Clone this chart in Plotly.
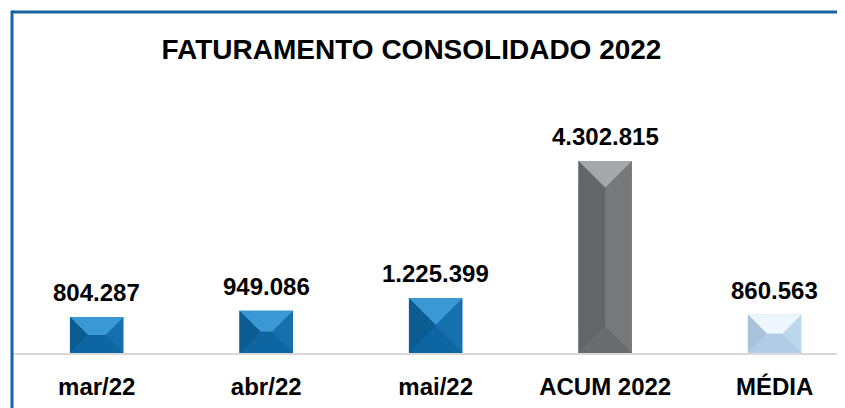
import plotly.graph_objects as go

# ---------------- data ----------------
categories = ["mar/22", "abr/22", "mai/22", "ACUM 2022", "MÉDIA"]
values = [804287, 949086, 1225399, 4302815, 860563]
title_text = "FATURAMENTO CONSOLIDADO 2022"

# ---------------- styles ----------------
base_colors = ["#1570ad", "#1570ad", "#1570ad", "#77787b", "#bcd6ec"]   # right face
top_colors = ["#3a98d5", "#3a98d5", "#3a98d5", "#a6a7aa", "#eef7fd"]
left_colors = ["#0b5c93", "#0b5c93", "#0b5c93", "#646567", "#a8c2da"]
bottom_colors = ["#0d65a1", "#0d65a1", "#0d65a1", "#6b6c6f", "#b1cce4"]

# page body has an 8px margin, so the figure is sized to fill the rest of the window
W, H = 837, 400
M_L, M_R, M_T, M_B = 4, 0, 92, 55
plot_w = W - M_L - M_R
plot_h = H - M_T - M_B
X_RANGE = [-0.5, 4.415]
UNITS_PER_PX = 22400
Y_RANGE = [0, plot_h * UNITS_PER_PX]
BAR_W = 0.316
FONT = "Liberation Sans, Arial, sans-serif"

x_per_px = (X_RANGE[1] - X_RANGE[0]) / plot_w
y_per_px = (Y_RANGE[1] - Y_RANGE[0]) / plot_h

xs = list(range(len(categories)))

fig = go.Figure()
fig.add_trace(go.Bar(
    x=xs, y=values, width=BAR_W,
    marker=dict(color=base_colors, line=dict(width=0)),
    hoverinfo="skip", showlegend=False,
))

# bevel faces derived from the values
for i, v in enumerate(values):
    x0, x1 = i - BAR_W / 2, i + BAR_W / 2
    bar_w_px = BAR_W / x_per_px
    h_px = v / y_per_px
    d_px = min(bar_w_px / 2, h_px / 2)
    dx, dy = d_px * x_per_px, d_px * y_per_px
    faces = [
        ([x0, x1, x1 - dx, x0 + dx, x0], [v, v, v - dy, v - dy, v], top_colors[i]),
        ([x0, x0, x0 + dx, x0 + dx, x0], [0, v, v - dy, dy, 0], left_colors[i]),
        ([x0, x1, x1 - dx, x0 + dx, x0], [0, 0, dy, dy, 0], bottom_colors[i]),
    ]
    for fx, fy, col in faces:
        fig.add_trace(go.Scatter(
            x=fx, y=fy, mode="lines", fill="toself", fillcolor=col,
            line=dict(width=0, color=col), hoverinfo="skip", showlegend=False,
        ))

for i, v in enumerate(values):
    fig.add_annotation(
        x=i, y=v, xref="x", yref="y", text=f"{v:,}".replace(",", "."),
        showarrow=False, yanchor="bottom", yshift=9,
        font=dict(family=FONT, size=24, color="#000000", weight="bold"),
    )

# chart-area border (top and left)
top_border_paper = (H - M_B - 4) / plot_h
fig.add_shape(type="line", xref="paper", yref="paper", x0=0, x1=1.0,
              y0=top_border_paper, y1=top_border_paper,
              line=dict(color="#1565a5", width=3), layer="above")
fig.add_shape(type="line", xref="paper", yref="paper", x0=0, x1=0,
              y0=-0.5, y1=top_border_paper + 0.006,
              line=dict(color="#1565a5", width=3), layer="above")

fig.update_layout(
    width=W, height=H,
    margin=dict(l=M_L, r=M_R, t=M_T, b=M_B, pad=0),
    paper_bgcolor="#ffffff", plot_bgcolor="#ffffff",
    title=dict(text=title_text, x=403.5 / W, xanchor="center", xref="container",
               y=1 - 41 / H, yanchor="middle", yref="container",
               font=dict(family=FONT, size=28, color="#000000", weight="bold")),
    xaxis=dict(range=X_RANGE, tickvals=xs, ticktext=categories, showgrid=False,
               zeroline=False, showline=True, linecolor="#d9d9d9", linewidth=1.5,
               ticks="", ticklabelstandoff=11,
               tickfont=dict(family=FONT, size=24, color="#000000", weight="bold"),
               fixedrange=True),
    yaxis=dict(range=Y_RANGE, visible=False, showgrid=False, zeroline=False, fixedrange=True),
    showlegend=False,
)

fig.write_html("out.html")
